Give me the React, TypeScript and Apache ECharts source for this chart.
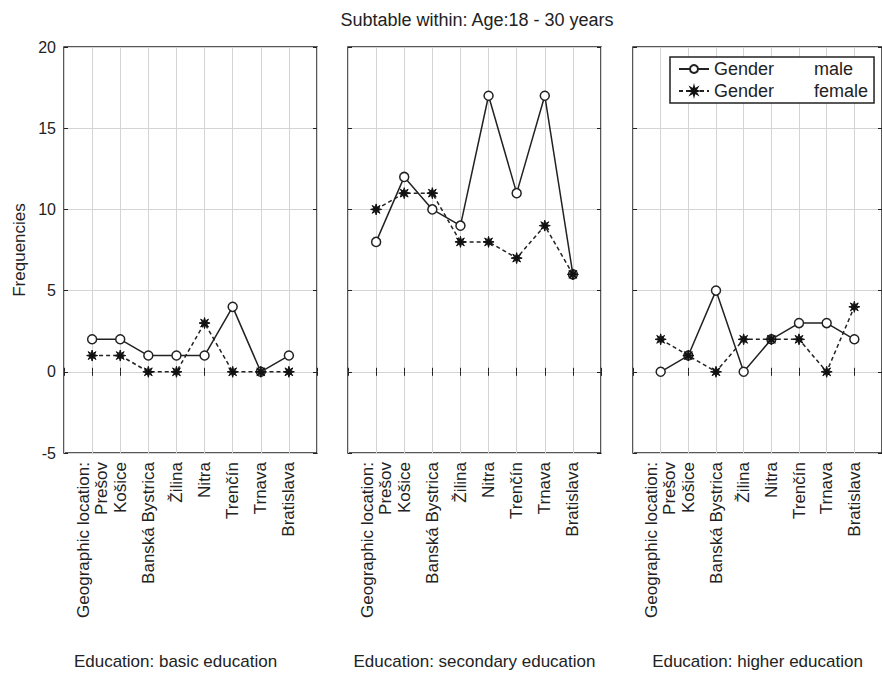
import React, { useEffect, useRef } from "react";
import * as echarts from "echarts";

const titleText = "Subtable within: Age:18 - 30 years";
const yAxisName = "Frequencies";
const locationHeader = "Geographic location:";
const locations = ["Prešov", "Košice", "Banská Bystrica", "Žilina", "Nitra", "Trenčín", "Trnava", "Bratislava"];
const educationLevels = ["basic education", "secondary education", "higher education"];
const genders = ["male", "female"];

const maleBasic = [2, 2, 1, 1, 1, 4, 0, 1];
const femaleBasic = [1, 1, 0, 0, 3, 0, 0, 0];
const maleSecondary = [8, 12, 10, 9, 17, 11, 17, 6];
const femaleSecondary = [10, 11, 11, 8, 8, 7, 9, 6];
const maleHigher = [0, 1, 5, 0, 2, 3, 3, 2];
const femaleHigher = [2, 1, 0, 2, 2, 2, 0, 4];

const yMin = -5;
const yMax = 20;
const yStep = 5;

const maleByPanel = [maleBasic, maleSecondary, maleHigher];
const femaleByPanel = [femaleBasic, femaleSecondary, femaleHigher];

const FONT = "'Liberation Sans', Arial, sans-serif";
const asterisk =
  "path://M0,-10 L1.6,-3.9 L7.1,-7.1 L3.9,-1.6 L10,0 L3.9,1.6 L7.1,7.1 L1.6,3.9 L0,10 L-1.6,3.9 L-7.1,7.1 L-3.9,1.6 L-10,0 L-3.9,-1.6 L-7.1,-7.1 L-1.6,-3.9 Z";

export default function App() {
  const ref = useRef<HTMLDivElement>(null);
  useEffect(() => {
    if (!ref.current) return;
    const chart = echarts.init(ref.current, null, { renderer: "svg" });
    const cats = ["", ...locations, ""];
    const gridLefts = [64, 348, 633];
    const gridWidths = [253, 253, 252];
    const namePads = [
      [0, 30, 0, 0],
      [0, 0, 0, 0],
      [0, 0, 0, 0],
    ];
    const grids: any[] = [];
    const xAxes: any[] = [];
    const yAxes: any[] = [];
    const series: any[] = [];
    for (let p = 0; p < 3; p++) {
      grids.push({
        left: gridLefts[p],
        width: gridWidths[p],
        top: 47,
        height: 406,
        show: true,
        borderColor: "#222",
        borderWidth: 1.5,
        backgroundColor: "#fff",
      });
      xAxes.push({
        type: "category",
        gridIndex: p,
        data: cats,
        boundaryGap: false,
        axisLine: { show: false },
        axisTick: { show: true, inside: true, length: 4, interval: 0, lineStyle: { color: "#222" } },
        splitLine: { show: true, interval: 0, lineStyle: { color: "#d4d4d4", width: 1 } },
        axisLabel: {
          interval: 0,
          rotate: 90,
          margin: 9,
          fontSize: 17,
          lineHeight: 18,
          color: "#222",
          fontFamily: FONT,
          formatter: (v: string, i: number) => (i === 1 ? locationHeader + "\n" + v : v),
        },
        name: "Education: " + educationLevels[p],
        nameLocation: "middle",
        nameGap: 200,
        nameTextStyle: { fontSize: 17, color: "#222", fontFamily: FONT, padding: namePads[p] },
      });
      xAxes.push({
        type: "category",
        gridIndex: p,
        data: cats,
        position: "top",
        boundaryGap: false,
        axisLine: { show: false },
        axisTick: { show: true, inside: true, length: 4, interval: 0, lineStyle: { color: "#222" } },
        axisLabel: { show: false },
        splitLine: { show: false },
      });
      yAxes.push({
        type: "value",
        gridIndex: p,
        min: yMin,
        max: yMax,
        interval: yStep,
        axisLine: { show: false },
        axisTick: { show: true, inside: true, length: 4, lineStyle: { color: "#222" } },
        splitLine: { show: true, lineStyle: { color: "#d4d4d4", width: 1 } },
        axisLabel: { show: p === 0, fontSize: 16, color: "#222", margin: 8, fontFamily: FONT },
        name: p === 0 ? yAxisName : "",
        nameLocation: "middle",
        nameGap: 36,
        nameTextStyle: { fontSize: 17, color: "#222", fontFamily: FONT },
      });
      yAxes.push({
        type: "value",
        gridIndex: p,
        min: yMin,
        max: yMax,
        interval: yStep,
        position: "right",
        axisLine: { show: false },
        axisTick: { show: true, inside: true, length: 4, lineStyle: { color: "#222" } },
        splitLine: { show: false },
        axisLabel: { show: false },
      });
      series.push({
        type: "line",
        name: genders[0],
        xAxisIndex: p * 2,
        yAxisIndex: p * 2,
        data: [null, ...maleByPanel[p], null],
        symbol: "circle",
        symbolSize: 9,
        showAllSymbol: true,
        lineStyle: { color: "#222", width: 1.5, type: "solid" },
        itemStyle: { color: "#fff", borderColor: "#222", borderWidth: 1.5 },
        z: 3,
      });
      series.push({
        type: "line",
        name: genders[1],
        xAxisIndex: p * 2,
        yAxisIndex: p * 2,
        data: [null, ...femaleByPanel[p], null],
        symbol: asterisk,
        symbolSize: 11,
        showAllSymbol: true,
        lineStyle: { color: "#222", width: 1.5, type: [4, 3] },
        itemStyle: { color: "#111", borderColor: "#111", borderWidth: 1 },
        z: 4,
      });
    }
    chart.setOption({
      animation: false,
      backgroundColor: "#fff",
      title: {
        text: titleText,
        left: 472,
        top: 6,
        textAlign: "center",
        textStyle: { fontSize: 18, fontWeight: "normal", color: "#222", fontFamily: FONT },
      },
      legend: {
        data: genders,
        orient: "vertical",
        left: 670,
        top: 57,
        padding: [3, 6, 3, 8],
        itemGap: 4,
        itemWidth: 30,
        itemHeight: 10,
        borderColor: "#222",
        borderWidth: 1.5,
        backgroundColor: "#fff",
        formatter: (name: string) => "{a|Gender}{b|" + name + "}",
        textStyle: {
          color: "#222",
          fontFamily: FONT,
          fontSize: 18,
          rich: {
            a: { width: 100, fontSize: 18, fontFamily: FONT, color: "#222" },
            b: { fontSize: 18, fontFamily: FONT, color: "#222" },
          },
        },
      },
      grid: grids,
      xAxis: xAxes,
      yAxis: yAxes,
      series,
    });
    return () => chart.dispose();
  }, []);
  return (
    <div
      ref={ref}
      style={{ position: "fixed", left: 0, top: 0, width: 882, height: 677, background: "#fff" }}
    />
  );
}
